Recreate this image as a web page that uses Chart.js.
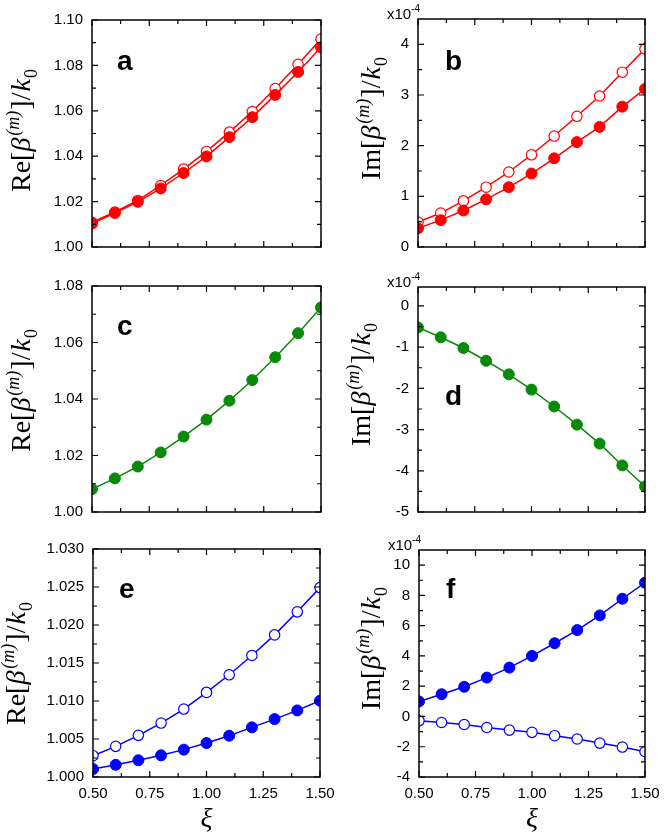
<!DOCTYPE html>
<html>
<head>
<meta charset="utf-8">
<script src="https://cdn.jsdelivr.net/npm/chart.js@4.4.1/dist/chart.umd.min.js"></script>
<style>
  body { margin: 0; background: #fff; }
  #wrap { position: relative; width: 666px; height: 837px; overflow: hidden; background: #fff; }
  #wrap canvas { position: absolute; }
</style>
</head>
<body>
<div id="wrap"></div>
<script>
// xi values shared by all panels
const xi = [0.5, 0.6, 0.7, 0.8, 0.9, 1.0, 1.1, 1.2, 1.3, 1.4, 1.5]

// a: Re, red
const aFilled = [1.0103, 1.0150, 1.0199, 1.0258, 1.0326, 1.0399, 1.0484, 1.0572, 1.0670, 1.0771, 1.0880]
const aOpen   = [1.0109, 1.0154, 1.0205, 1.0271, 1.0343, 1.0421, 1.0506, 1.0597, 1.0698, 1.0805, 1.0916]
// b: Im (x1e-4), red
const bFilled = [0.37, 0.53, 0.72, 0.94, 1.18, 1.45, 1.75, 2.07, 2.37, 2.77, 3.12]
const bOpen   = [0.49, 0.67, 0.91, 1.18, 1.48, 1.82, 2.19, 2.58, 2.98, 3.45, 3.91]
// c: Re, green
const cFilled = [1.0081, 1.0119, 1.0161, 1.0211, 1.0267, 1.0327, 1.0394, 1.0467, 1.0548, 1.0633, 1.0724]
// d: Im (x1e-4), green
const dFilled = [-0.52, -0.76, -1.02, -1.33, -1.66, -2.03, -2.44, -2.88, -3.34, -3.87, -4.38]
// e: Re, blue
const eFilled = [1.00105, 1.0016, 1.0022, 1.00285, 1.0036, 1.00447, 1.00543, 1.00653, 1.00762, 1.00876, 1.01003]
const eOpen   = [1.0028, 1.00403, 1.00548, 1.0071, 1.00894, 1.01113, 1.01345, 1.01599, 1.0187, 1.02173, 1.02492]
// f: Im (x1e-4), blue
const fFilled = [0.99, 1.47, 1.96, 2.57, 3.23, 4.0, 4.84, 5.71, 6.68, 7.78, 8.84]
const fOpen   = [-0.29, -0.40, -0.53, -0.73, -0.90, -1.05, -1.27, -1.49, -1.76, -2.02, -2.33]

// ticks
const xTicks = [0.5, 0.75, 1.0, 1.25, 1.5]
const xMinor = [0.625, 0.875, 1.125, 1.375]
const xTickLabels = ['0.50', '0.75', '1.00', '1.25', '1.50']

const aTicks = [1.00, 1.02, 1.04, 1.06, 1.08, 1.10]
const aMinor = [1.01, 1.03, 1.05, 1.07, 1.09]
const aTickLabels = ['1.00', '1.02', '1.04', '1.06', '1.08', '1.10']

const bTicks = [0, 1, 2, 3, 4]
const bMinor = [0.5, 1.5, 2.5, 3.5]
const bTickLabels = ['0', '1', '2', '3', '4']

const cTicks = [1.00, 1.02, 1.04, 1.06, 1.08]
const cMinor = [1.01, 1.03, 1.05, 1.07]
const cTickLabels = ['1.00', '1.02', '1.04', '1.06', '1.08']

const dTicks = [-5, -4, -3, -2, -1, 0]
const dMinor = [-4.5, -3.5, -2.5, -1.5, -0.5]
const dTickLabels = ['-5', '-4', '-3', '-2', '-1', '0']

const eTicks = [1.000, 1.005, 1.010, 1.015, 1.020, 1.025, 1.030]
const eMinor = [1.0025, 1.0075, 1.0125, 1.0175, 1.0225, 1.0275]
const eTickLabels = ['1.000', '1.005', '1.010', '1.015', '1.020', '1.025', '1.030']

const fTicks = [-4, -2, 0, 2, 4, 6, 8, 10]
const fMinor = [-3, -1, 1, 3, 5, 7, 9]
const fTickLabels = ['-4', '-2', '0', '2', '4', '6', '8', '10']

const RED = '#ff0000'
const GREEN = '#088a08'
const BLUE = '#0000ff'
const SANS = '"Liberation Sans", Arial, sans-serif'
const SERIF = '"Liberation Serif", "Times New Roman", serif'

function pts(ys) {
  return xi.map((x, i) => ({ x: x, y: ys[i] }))
}

function filledSet(ys, color) {
  return {
    data: pts(ys), borderColor: color, backgroundColor: color,
    borderWidth: 1.5, pointRadius: 5.5, pointBackgroundColor: color,
    pointBorderColor: color, pointBorderWidth: 1, tension: 0, clip: 0
  }
}

function openSet(ys, color) {
  return {
    data: pts(ys), borderColor: color, backgroundColor: '#fff',
    borderWidth: 1.5, pointRadius: 5.2, pointBackgroundColor: '#fff',
    pointBorderColor: color, pointBorderWidth: 1.2, tension: 0, clip: 0
  }
}

function drawYTitle(ctx, kind, x, y0) {
  const size = 28
  const parts = [
    [kind + '[', size + 'px ' + SERIF, 0, 0],
    ['\u03B2', 'italic ' + size + 'px ' + SERIF, 0, 2],
    ['(m)', 'italic 18px ' + SERIF, -11, 1],
    [']/', size + 'px ' + SERIF, 0, 1],
    ['k', 'italic ' + size + 'px ' + SERIF, 0, 1],
    ['0', '18px ' + SERIF, 7, 0]
  ]
  ctx.save()
  ctx.translate(x, y0)
  ctx.rotate(-Math.PI / 2)
  ctx.fillStyle = '#000'
  ctx.textAlign = 'left'
  ctx.textBaseline = 'alphabetic'
  let pos = 0
  parts.forEach(p => {
    ctx.font = p[1]
    ctx.fillText(p[0], pos, p[2])
    pos += ctx.measureText(p[0]).width + p[3]
  })
  ctx.restore()
}

const framePlugin = {
  id: 'frame',
  afterDatasetsDraw(chart, args, opts) {
    const ctx = chart.ctx
    const { left, top, right, bottom } = chart.chartArea
    const xs = chart.scales.x
    const ys = chart.scales.y
    ctx.save()
    ctx.strokeStyle = '#000'
    ctx.lineWidth = 1.2
    ctx.beginPath()
    const tick = (vals, len) => {
      vals.forEach(v => {
        const px = xs.getPixelForValue(v)
        ctx.moveTo(px, bottom); ctx.lineTo(px, bottom - len)
        ctx.moveTo(px, top); ctx.lineTo(px, top + len)
      })
    }
    tick(xTicks, 6)
    tick(xMinor, 4)
    const ytick = (vals, len) => {
      vals.forEach(v => {
        const py = ys.getPixelForValue(v)
        ctx.moveTo(left, py); ctx.lineTo(left + len, py)
        ctx.moveTo(right, py); ctx.lineTo(right - len, py)
      })
    }
    ytick(opts.major, 6)
    ytick(opts.minor, 4)
    ctx.stroke()
    ctx.lineWidth = 1.5
    ctx.strokeRect(left, top, right - left, bottom - top)

    // panel letter
    ctx.fillStyle = '#000'
    ctx.font = 'bold 28px ' + SANS
    ctx.textAlign = 'left'
    ctx.textBaseline = 'alphabetic'
    ctx.fillText(opts.letter, opts.letterX, opts.letterY)

    // exponent note
    if (opts.power) {
      ctx.font = '15px ' + SANS
      ctx.fillText('x10', left - 31, top)
      const w = ctx.measureText('x10').width
      ctx.font = '10px ' + SANS
      ctx.fillText('-4', left - 31 + w, top - 7)
    }

    drawYTitle(ctx, opts.kind, opts.titleX, bottom - opts.titleStart)
    ctx.restore()
  }
}

const panels = [
  { id: 'a', kind: 'Re', sets: [filledSet(aFilled, RED), openSet(aOpen, RED)],
    min: 1.00, max: 1.10, major: aTicks, minor: aMinor, labels: aTickLabels, power: false,
    canvas: [0, 0, 345, 270], plot: [92, 20, 321, 247], letter: [117, 70], titleX: 30, titleStart: 55, bottomRow: false },
  { id: 'b', kind: 'Im', sets: [filledSet(bFilled, RED), openSet(bOpen, RED)],
    min: 0, max: 4.5, major: bTicks, minor: bMinor, labels: bTickLabels, power: true,
    canvas: [333, 0, 333, 270], plot: [418, 19, 645, 247], letter: [445, 70], titleX: 47, titleStart: 67, bottomRow: false },
  { id: 'c', kind: 'Re', sets: [filledSet(cFilled, GREEN)],
    min: 1.00, max: 1.08, major: cTicks, minor: cMinor, labels: cTickLabels, power: false,
    canvas: [0, 270, 345, 262], plot: [92, 286, 321, 512], letter: [117, 335], titleX: 30, titleStart: 60, bottomRow: false },
  { id: 'd', kind: 'Im', sets: [filledSet(dFilled, GREEN)],
    min: -5, max: 0.46, major: dTicks, minor: dMinor, labels: dTickLabels, power: true,
    canvas: [333, 270, 333, 262], plot: [418, 287, 645, 512], letter: [445, 405], titleX: 37, titleStart: 66, bottomRow: false },
  { id: 'e', kind: 'Re', sets: [filledSet(eFilled, BLUE), openSet(eOpen, BLUE)],
    min: 1.000, max: 1.030, major: eTicks, minor: eMinor, labels: eTickLabels, power: false,
    canvas: [0, 530, 345, 307], plot: [93, 549, 320, 777], letter: [119, 598], titleX: 25, titleStart: 52, bottomRow: true },
  { id: 'f', kind: 'Im', sets: [filledSet(fFilled, BLUE), openSet(fOpen, BLUE)],
    min: -4, max: 11, major: fTicks, minor: fMinor, labels: fTickLabels, power: true,
    canvas: [333, 530, 333, 307], plot: [419, 550, 645, 777], letter: [446, 598], titleX: 47, titleStart: 67, bottomRow: true }
]

const wrap = document.getElementById('wrap')

panels.forEach(p => {
  const [cl, ct, cw, ch] = p.canvas
  const [pl, pt, pr, pb] = p.plot
  const cv = document.createElement('canvas')
  cv.width = cw
  cv.height = ch
  cv.style.left = cl + 'px'
  cv.style.top = ct + 'px'
  cv.style.width = cw + 'px'
  cv.style.height = ch + 'px'
  wrap.appendChild(cv)

  const yWidth = pl - cl
  const xHeight = ct + ch - pb

  new Chart(cv, {
    type: 'line',
    data: { datasets: p.sets },
    plugins: [framePlugin],
    options: {
      responsive: false,
      animation: false,
      events: [],
      layout: { padding: { left: 0, top: pt - ct, right: cl + cw - pr, bottom: 0 } },
      plugins: {
        legend: { display: false },
        tooltip: { enabled: false },
        frame: {
          major: p.major, minor: p.minor, letter: p.id, kind: p.kind, power: p.power,
          letterX: p.letter[0] - cl, letterY: p.letter[1] - ct,
          titleX: p.titleX, titleStart: p.titleStart
        }
      },
      scales: {
        x: {
          type: 'linear', min: 0.5, max: 1.5,
          grid: { display: false, drawTicks: false },
          border: { display: false },
          afterBuildTicks: s => { s.ticks = xTicks.map(v => ({ value: v })) },
          ticks: {
            display: p.bottomRow, padding: 8, color: '#000',
            font: { family: SANS, size: 15 },
            maxRotation: 0, autoSkip: false,
            callback: (v, i) => xTickLabels[i]
          },
          title: {
            display: p.bottomRow, text: '\u03BE', color: '#000',
            font: { family: SERIF, size: 28, style: 'italic' },
            padding: { top: 0, bottom: 1 }
          },
          afterFit: s => {
            s.height = xHeight
            s.paddingLeft = 0; s.paddingRight = 0
          }
        },
        y: {
          type: 'linear', min: p.min, max: p.max,
          grid: { display: false, drawTicks: false },
          border: { display: false },
          afterBuildTicks: s => { s.ticks = p.major.map(v => ({ value: v })) },
          ticks: {
            padding: 9, color: '#000',
            font: { family: SANS, size: 15 },
            autoSkip: false,
            callback: (v, i) => p.labels[i]
          },
          afterFit: s => {
            s.width = yWidth
            s.paddingTop = 0; s.paddingBottom = 0
          }
        }
      }
    }
  })
})
</script>
</body>
</html>
